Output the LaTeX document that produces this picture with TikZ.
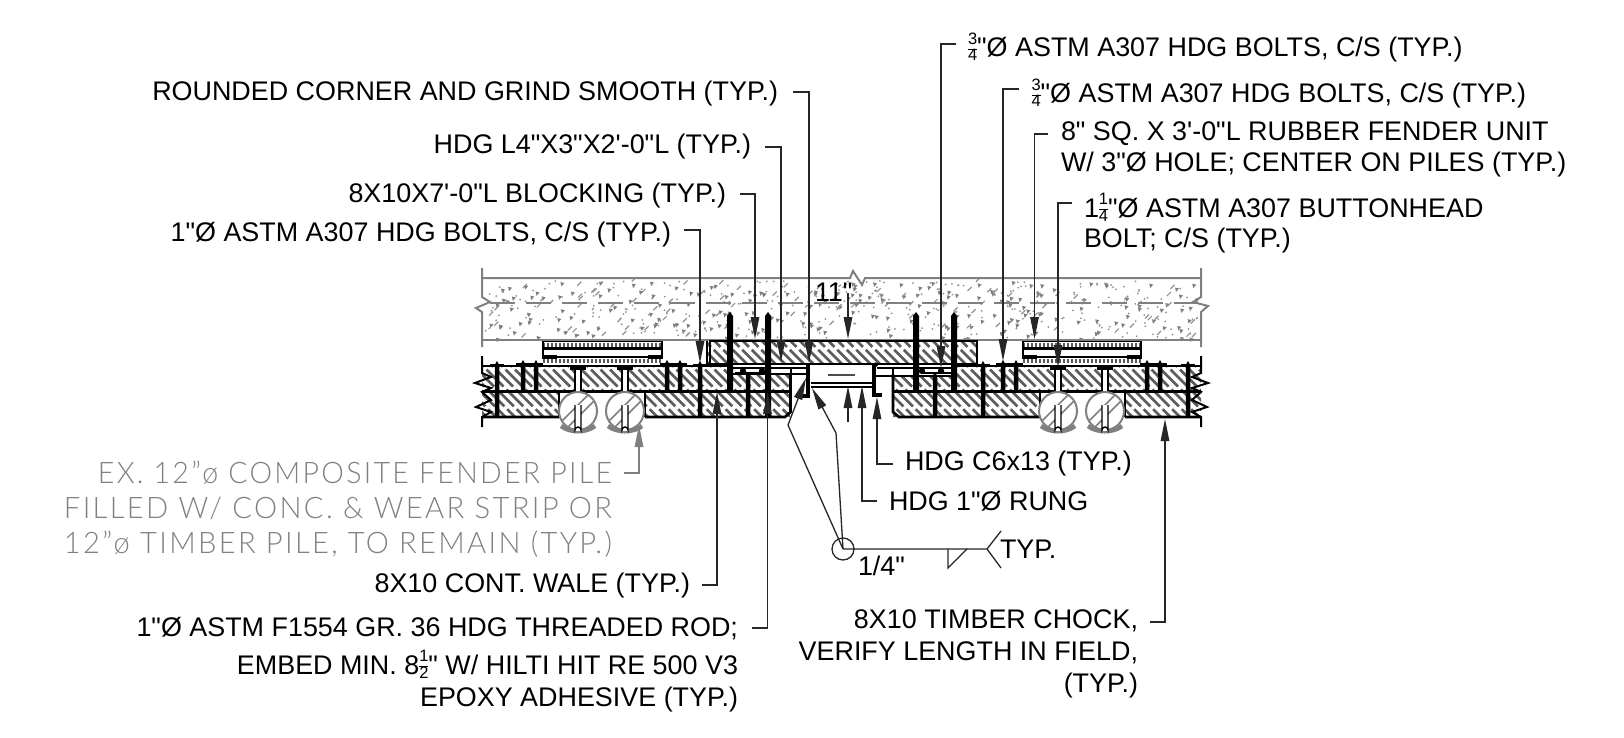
\documentclass[tikz,border=0pt]{standalone}
\usepackage{fontspec}
\newfontfamily\lsans{Liberation Sans}
\newfontfamily\thinfont[LetterSpace=8]{Lato Light}
\usetikzlibrary{arrows.meta}
\definecolor{gline}{gray}{0.5}
\definecolor{hatchc}{gray}{0.36}
\tikzset{
  lbl/.style={inner sep=0pt,outer sep=0pt,text=black,font=\lsans\fontsize{26.9}{30}\selectfont},
  glbl/.style={inner sep=0pt,outer sep=0pt,text=gray},
  leader/.style={draw=black!85,line width=1.3pt,-{Triangle[length=22pt,width=8.5pt]}},
  gleader/.style={draw=gline,line width=1.5pt,-{Triangle[length=22pt,width=8.5pt]}},
  plain/.style={draw=black!85,line width=1.3pt},
  strong/.style={draw=black,line width=2.7pt,line cap=butt},
  mid/.style={draw=black,line width=2pt},
  gray line/.style={draw=gline,line width=2pt}
}
\newcommand\fr[2]{\raisebox{-4pt}{\fontsize{16.5}{16.5}\selectfont\setlength\tabcolsep{0pt}\setlength\arrayrulewidth{0.7pt}\renewcommand\arraystretch{0.8}\begin{tabular}[b]{@{}c@{}}#1\\\hline#2\end{tabular}}}
\newcommand\lead[6][leader]{\coordinate (#2s) at (#3,#4);\coordinate (#2t) at (#5,#6);\draw[#1] (#2s) -| (#2t);}
\newcommand\boltv[4]{\fill[black] ({#1-#4/2},{#2+4}) -- (#1,#2) -- ({#1+#4/2},{#2+4}) -- ({#1+#4/2},#3) -- ({#1-#4/2},#3) -- cycle;}
\newcommand\capbolt[3]{\boltv{#1}{#2}{#3}{4.5}\draw[black,line width=2pt] ({#1-7},#2+4) -- ({#1+7},#2+4);\draw[black,line width=2.5pt] ({#1-4},#3) -- ({#1+4},#3);}
\newcommand\pile[1]{%
  \fill[white] (#1,411) circle[radius=19];
  \begin{scope}\clip (#1,411) circle[radius=19];
    \draw[gline,line width=1.5pt] ({#1-19},{411+13}) -- ({#1+13},{411-19});
    \draw[gline,line width=1.5pt] ({#1-13},{411+19}) -- ({#1+19},{411-13});
  \end{scope}
  \draw[gline,line width=2pt] (#1,411) circle[radius=19];
  \draw[gline,line width=4.5pt] ({#1-17},{411+15}) .. controls ({#1-8},{411+22}) and ({#1+8},{411+22}) .. ({#1+17},{411+15});
  \fill[white] ({#1-3},368) rectangle ({#1+3},391);
  \draw[black,line width=1.4pt] ({#1-3},368) -- ({#1-3},391) ({#1+3},368) -- ({#1+3},391);
  \draw[black,line width=3pt] ({#1-8},368) -- ({#1+8},368);
  \fill[white] ({#1-3},405) rectangle ({#1+3},431);
  \draw[black,line width=1.4pt] ({#1-3},405) -- ({#1-3},430) arc[start angle=180,end angle=360,radius=3] -- ({#1+3},405);
}
\newcommand\fender[2]{%
  \fill[white] (#1,341) rectangle (#2,365);
  \draw[black!65,line width=3.5pt,dash pattern=on 2pt off 2pt] (#1,345) -- (#2,345);
  \draw[black!65,line width=4pt,dash pattern=on 2pt off 2pt] (#1,361) -- (#2,361);
  \draw[black,line width=1.6pt] (#1,341.5) -- (#2,341.5);
  \draw[black,line width=3pt] (#1,348.5) -- (#2,348.5);
  \draw[black,line width=1.6pt] (#1,357) -- (#2,357);
  \draw[black,line width=3.2pt] ({#1-1},357) -- ({#1+14},357) ({#2-14},357) -- ({#2+1},357);
  \draw[black,line width=1.6pt] (#1,341) -- (#1,358) (#2,341) -- (#2,358);
}
\begin{document}
\begin{tikzpicture}[x=1pt,y=-1pt]
\useasboundingbox (0,0) rectangle (1624,738);
% concrete specks
\pgfmathsetseed{11}
\foreach \i in {1,...,640}{
  \pgfmathsetmacro\xx{485+rnd*713}
  \pgfmathsetmacro\yy{281+rnd*57}
  \pgfmathsetmacro\rr{rnd}
  \ifdim\rr pt<0.5pt
    \fill[gray!85] (\xx,\yy) circle[radius=1];
  \else\ifdim\rr pt<0.85pt
    \fill[gray] (\xx,\yy) -- ++(4,1) -- ++(-3,3.5) -- cycle;
  \else
    \draw[gray!85,line width=1.2pt] (\xx,\yy) -- ++(4,-4);
  \fi\fi
}
% concrete deck
\draw[gray line] (482,278) -- (850,278) -- (853,271) -- (862,285) -- (865,278) -- (1201,278);
\draw[gray line] (482,340) -- (1201,340);
\draw[gray line] (482,268) -- (482,297) -- (490,302) -- (476,308) -- (482,312) -- (482,347);
\draw[gray line] (1201,268) -- (1201,297) -- (1193,302) -- (1208,306) -- (1201,312) -- (1201,347);
\draw[gline,line width=1.5pt,dash pattern=on 25pt off 11pt] (490,303) -- (1197,303);
% timber hatching
\begin{scope}
  \clip (707,341) rectangle (977,364)
        (482,367) rectangle (733,391) (733,374) rectangle (790,391)
        (482,392) rectangle (559,417) (645,392) rectangle (790,417)
        (893,376) rectangle (957,391) (957,367) rectangle (1201,391)
        (893,392) rectangle (1040,417) (1125,392) rectangle (1201,417);
  \foreach \s in {200,209.5,...,1201}{
    \draw[hatchc,line width=2.6pt,dash pattern=on 24pt off 4pt] (\s,330) -- ({\s+100},430);
  }
\end{scope}
% timber outlines
\draw[strong] (710,364) -- (710,341) -- (977,341) -- (977,364);
\draw[strong] (707,341) -- (707,364);
\draw[strong] (482,366) -- (733,366);
\draw[strong] (957,366) -- (1201,366);
\draw[strong] (482,391.5) -- (792,391.5);
\draw[strong] (893,391.5) -- (1201,391.5);
\draw[strong] (482,417) -- (559,417) (645,417) -- (785,417) -- (790.5,412) -- (790.5,374);
\draw[strong] (893,374) -- (893,412) -- (899,417) -- (1040,417) (1125,417) -- (1201,417);
\draw[mid] (559,392) -- (559,417) (645,392) -- (645,417) (1040,392) -- (1040,417) (1125,392) -- (1125,417);
% break lines
\draw[mid] (482,356) -- (482,373) -- (491,377) -- (475,383) -- (491,388) -- (482,392) -- (491,400) -- (476,407) -- (491,412) -- (482,417) -- (482,427);
\draw[mid] (1201,356) -- (1201,373) -- (1192,377) -- (1208,383) -- (1192,388) -- (1201,392) -- (1192,400) -- (1207,407) -- (1192,412) -- (1201,417) -- (1201,427);
% fenders
\fender{543}{662}
\fender{1023}{1141}
% piles
\pile{578}\pile{625}\pile{1058}\pile{1105}
% angles, channel and rung
\draw[strong] (707,364) -- (977,364);
\draw[mid] (733,367.5) -- (808,367.5) (733,374) -- (808,374);
\draw[mid] (877,367.5) -- (957,367.5) (875,376) -- (957,376);
\draw[mid] (790.5,367) -- (790.5,374) (893,367) -- (893,376);
\draw[black,line width=4pt] (808,365) -- (808,396) -- (801,396);
\draw[black,line width=4pt] (874,367) to[out=90,in=180] (877,364);
\draw[black,line width=4pt] (874,365) -- (874,395) -- (882,395);
\draw[black,line width=2pt] (811,383) -- (873,383) (811,386.5) -- (873,386.5);
\draw[black!70,line width=1.5pt] (828,375) -- (855,375);
% bolts
\foreach \bx in {497,983,1188}{\capbolt{\bx}{361}{417}}
\capbolt{700}{361}{417}
\foreach \bx in {523,536,667,680,1003,1016,1147,1160}{\capbolt{\bx}{360}{391}}
\boltv{730}{312}{391}{6}\boltv{768}{312}{417}{6}
\boltv{916}{312}{391}{6}\boltv{954}{312}{391}{6}
\boltv{748}{372}{417}{4.5}\boltv{935}{372}{417}{4.5}
\draw[black,line width=3pt] (724,391) -- (736,391) (910,391) -- (922,391) (948,391) -- (960,391);
\draw[black,line width=2pt] (735,373) -- (766,373) (742,367) -- (742,373);
\draw[black,line width=2pt] (921,373) -- (952,373);
\foreach \dx in {743,762,922,941}{\fill[black] (\dx,371) circle[radius=3.2];}
% labels
\node[lbl,anchor=base east] (rc) at (778,101) {ROUNDED CORNER AND GRIND SMOOTH (TYP.)};
\node[lbl,anchor=base east] (hl) at (751,154) {HDG L4"X3"X2'-0"L (TYP.)};
\node[lbl,anchor=base east] (bl) at (726,202) {8X10X7'-0"L BLOCKING (TYP.)};
\node[lbl,anchor=base east] (ab) at (671,241) {1"Ø ASTM A307 HDG BOLTS, C/S (TYP.)};
\node[lbl,anchor=base west] (r1) at (968,57) {\fr{3}{4}"Ø ASTM A307 HDG BOLTS, C/S (TYP.)};
\node[lbl,anchor=base west] (r2) at (1031.5,103) {\fr{3}{4}"Ø ASTM A307 HDG BOLTS, C/S (TYP.)};
\node[lbl,anchor=base west] (r3) at (1061,141) {8" SQ. X 3'-0"L RUBBER FENDER UNIT};
\node[lbl,anchor=base west] (r3b) at (1061,172) {W/ 3"Ø HOLE; CENTER ON PILES (TYP.)};
\node[lbl,anchor=base west] (r4) at (1084,217) {1\fr{1}{4}"Ø ASTM A307 BUTTONHEAD};
\node[lbl,anchor=base west] (r4b) at (1084,247) {BOLT; C/S (TYP.)};
\node[lbl,anchor=base east] (wa) at (690,592) {8X10 CONT. WALE (TYP.)};
\node[lbl,anchor=base east] (th) at (738,636) {1"Ø ASTM F1554 GR. 36 HDG THREADED ROD;};
\node[lbl,anchor=base east] (em) at (738,674) {EMBED MIN. 8\fr{1}{2}" W/ HILTI HIT RE 500 V3};
\node[lbl,anchor=base east] (ep) at (738,706) {EPOXY ADHESIVE (TYP.)};
\node[lbl,anchor=base east] (ch) at (1138,628) {8X10 TIMBER CHOCK,};
\node[lbl,anchor=base east] (ve) at (1138,660) {VERIFY LENGTH IN FIELD,};
\node[lbl,anchor=base east] (ty) at (1138,692) {(TYP.)};
\node[lbl,anchor=base west] (c6) at (905,470) {HDG C6x13 (TYP.)};
\node[lbl,anchor=base west] (ru) at (889,510) {HDG 1"Ø RUNG};
\node[lbl,anchor=base west] (tp) at (1000,558) {TYP.};
\node[lbl,anchor=base west] (qt) at (858,575) {1/4"};
\node[lbl,anchor=base west] (el) at (815,301) {11"};
\node[glbl,anchor=base east] (e1) at (612,483) {\resizebox{514pt}{1.14\height}{\fontsize{26}{30}\thinfont EX. 12”ø COMPOSITE FENDER PILE}};
\node[glbl,anchor=base east] (e2) at (612,518) {\resizebox{548pt}{1.14\height}{\fontsize{26}{30}\thinfont FILLED W/ CONC. \& WEAR STRIP OR}};
\node[glbl,anchor=base east] (e3) at (612,553) {\resizebox{548pt}{1.14\height}{\fontsize{26}{30}\thinfont 12”ø TIMBER PILE, TO REMAIN (TYP.)}};
% leaders
\lead{a}{793}{92}{809}{363}
\lead{b}{764.5}{147}{781}{362}
\lead{c}{740}{194}{755}{339}
\lead{d}{684}{230}{700}{363}
\lead{e}{956}{44}{941}{368}
\lead{f}{1019}{89}{1003}{361}
\lead{g}{1048}{134}{1034.5}{339}
\lead{h}{1071.5}{203}{1058}{367}
\lead{i}{702}{585}{717}{392}
\lead{j}{752}{628}{767.5}{392}
\lead{k}{1150}{622}{1165}{419}
\lead{l}{893}{464}{877}{397}
\lead{m}{877}{501}{862}{386}
\lead[gleader]{n}{623.5}{473}{639}{425}
\coordinate (o1) at (848,293);\coordinate (o2) at (848,339);
\draw[leader] (o1) -- (o2);
\coordinate (p1) at (848,422);\coordinate (p2) at (848,386);
\draw[leader] (p1) -- (p2);
% weld symbol
\node[circle,draw=black!85,line width=1.3pt,minimum size=22pt,inner sep=0pt] (wc) at (843,549) {};
\coordinate (wa1) at (836,433);\coordinate (wt1) at (812,388);
\coordinate (wa2) at (788,425);\coordinate (wt2) at (806,378);
\draw[leader] (wc.center) -- (wa1) -- (wt1);
\draw[leader] (wc.center) -- (wa2) -- (wt2);
\coordinate (we) at (987,549);\coordinate (wu) at (1001,531);\coordinate (wd) at (1001,568);
\draw[plain] (wc.center) -- (we) (wu) -- (we) -- (wd);
\coordinate (w1) at (948,549);\coordinate (w2) at (948,568);\coordinate (w3) at (967,549);
\draw[plain] (w1) -- (w2) -- (w3);
\end{tikzpicture}
\end{document}
